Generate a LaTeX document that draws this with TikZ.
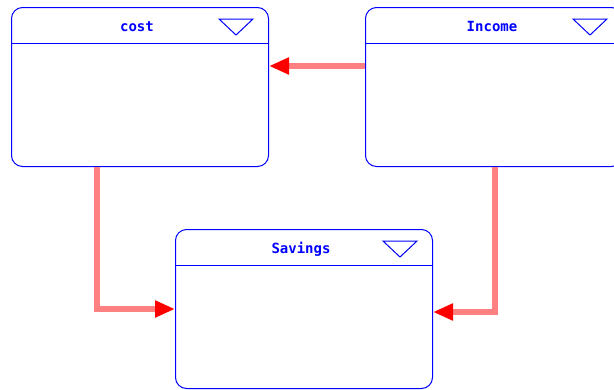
\documentclass[tikz,border=0pt]{standalone}
\usepackage{fontspec}
\newfontfamily\boxfont{DejaVu Sans Mono}
\usetikzlibrary{arrows.meta}

\begin{document}
\begin{tikzpicture}[x=1pt, y=-1pt]
                \tikzstyle{box} = [draw=blue, line width=1pt, rounded corners=11pt, minimum width=257pt, minimum height=159pt, inner sep=0pt, anchor=north west]
                \tikzstyle{boxline} = [draw=blue, line width=1pt]
                \tikzstyle{title} = [text=blue, anchor=base, font=\boxfont\bfseries\fontsize{14}{16}\selectfont]
                \tikzstyle{flow} = [line width=6.5pt, color=red!50, -{Triangle[length=20pt, width=16pt, color=red]}]
                \useasboundingbox (0, 0) rectangle (614, 389);
                \node[box] (cost) at (11, 7) {};
                \node[box] (income) at (365, 7) {};
                \node[box] (savings) at (175, 229) {};
                \draw[boxline] ([yshift=-36pt]cost.north west) -- ([yshift=-36pt]cost.north east);
                \draw[boxline] ([yshift=-36pt]income.north west) -- ([yshift=-36pt]income.north east);
                \draw[boxline] ([yshift=-36pt]savings.north west) -- ([yshift=-36pt]savings.north east);
                \draw[boxline] ([xshift=-50pt, yshift=-12pt]cost.north east) -- ([xshift=-16pt, yshift=-12pt]cost.north east) -- ([xshift=-33pt, yshift=-28pt]cost.north east) -- cycle;
                \draw[boxline] ([xshift=-50pt, yshift=-12pt]income.north east) -- ([xshift=-16pt, yshift=-12pt]income.north east) -- ([xshift=-33pt, yshift=-28pt]income.north east) -- cycle;
                \draw[boxline] ([xshift=-50pt, yshift=-12pt]savings.north east) -- ([xshift=-16pt, yshift=-12pt]savings.north east) -- ([xshift=-33pt, yshift=-28pt]savings.north east) -- cycle;
                \node[title] (costtitle) at ([xshift=-3pt, yshift=-24.5pt]cost.north) {cost};
                \node[title] (incometitle) at ([xshift=-2pt, yshift=-24.5pt]income.north) {Income};
                \node[title] (savingstitle) at ([xshift=-3pt, yshift=-24.5pt]savings.north) {Savings};
                \draw[flow] ([yshift=-59pt]income.north west) -- ([yshift=-59pt]cost.north east);
                \draw[flow] ([xshift=86pt]cost.south west) |- (savings.west);
                \draw[flow] ([xshift=130pt]income.south west) |- ([yshift=-3pt]savings.east);
            \end{tikzpicture}
\end{document}
